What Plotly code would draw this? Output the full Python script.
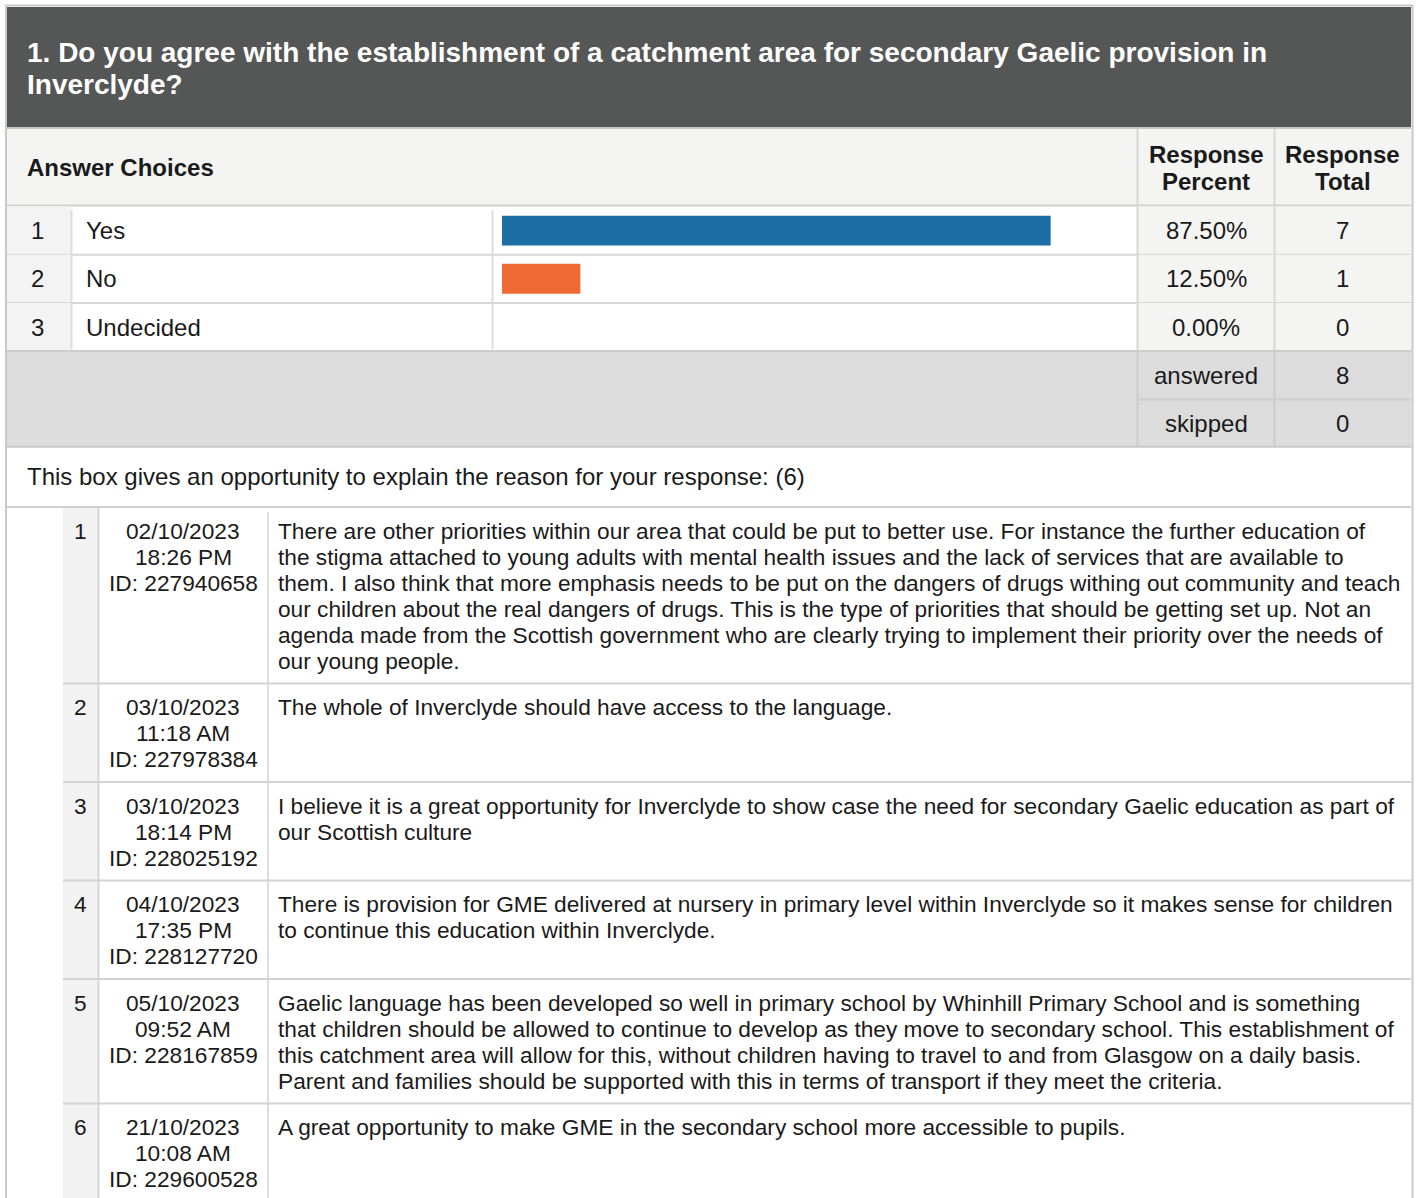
import plotly.graph_objects as go

W, H = 1417, 1198

# ---------------- data ----------------
question_lines = [
    "1. Do you agree with the establishment of a catchment area for secondary Gaelic provision in",
    "Inverclyde?",
]
header_labels = ["Answer Choices", ["Response", "Percent"], ["Response", "Total"]]
choices = ["Yes", "No", "Undecided"]
percents = [87.50, 12.50, 0.00]
totals = [7, 1, 0]
bar_colors = ["#1c6ea4", "#f06a35", "#9e9e9e"]
summary_labels = ["answered", "skipped"]
summary_values = [8, 0]
comment_prompt = "This box gives an opportunity to explain the reason for your response:"
comment_dates = ["02/10/2023", "03/10/2023", "03/10/2023", "04/10/2023", "05/10/2023", "21/10/2023"]
comment_times = ["18:26 PM", "11:18 AM", "18:14 PM", "17:35 PM", "09:52 AM", "10:08 AM"]
comment_ids = ["227940658", "227978384", "228025192", "228127720", "228167859", "229600528"]
comment_lines = [
    [
        "There are other priorities within our area that could be put to better use. For instance the further education of",
        "the stigma attached to young adults with mental health issues and the lack of services that are available to",
        "them. I also think that more emphasis needs to be put on the dangers of drugs withing out community and teach",
        "our children about the real dangers of drugs. This is the type of priorities that should be getting set up. Not an",
        "agenda made from the Scottish government who are clearly trying to implement their priority over the needs of",
        "our young people.",
    ],
    ["The whole of Inverclyde should have access to the language."],
    [
        "I believe it is a great opportunity for Inverclyde to show case the need for secondary Gaelic education as part of",
        "our Scottish culture",
    ],
    [
        "There is provision for GME delivered at nursery in primary level within Inverclyde so it makes sense for children",
        "to continue this education within Inverclyde.",
    ],
    [
        "Gaelic language has been developed so well in primary school by Whinhill Primary School and is something",
        "that children should be allowed to continue to develop as they move to secondary school. This establishment of",
        "this catchment area will allow for this, without children having to travel to and from Glasgow on a daily basis.",
        "Parent and families should be supported with this in terms of transport if they meet the criteria.",
    ],
    ["A great opportunity to make GME in the secondary school more accessible to pupils."],
]

# ---------------- styling ----------------
FONT = "Arial, 'Liberation Sans', sans-serif"
TXT = "#1a1a1a"
LINE = "#d3d3d3"

shapes = []
annotations = []


def rect(x0, y0, x1, y1, fill):
    shapes.append(dict(type="rect", xref="x", yref="y", x0=x0, y0=y0, x1=x1, y1=y1,
                       fillcolor=fill, line=dict(width=0), layer="below"))


def seg(x0, y0, x1, y1, color=LINE, width=2):
    shapes.append(dict(type="line", xref="x", yref="y", x0=x0, y0=y0, x1=x1, y1=y1,
                       line=dict(color=color, width=width), layer="below"))


def text(x, y, s, size, anchor="left", bold=False, color=TXT):
    annotations.append(dict(xref="x", yref="y", x=x, y=y, text=f"<b>{s}</b>" if bold else s,
                            showarrow=False, xanchor=anchor, yanchor="middle", borderpad=0,
                            font=dict(family=FONT, size=size, color=color)))


L, R = 7, 1411
# outer frame
seg(6, 5, 6, H, "#c8c8c8", 2)
seg(1412.5, 5, 1412.5, H, "#c8c8c8", 2)
seg(5, 5.5, 1413, 5.5, "#c8c8c8", 2)

# title block
rect(L, 7, R, 127, "#555756")
for i, ln in enumerate(question_lines):
    text(26, 52 + i * 32, ln, 28, bold=True, color="#ffffff")

# column header row
C1, C2, C3, C4, C5 = 71.5, 492.5, 1137.5, 1274.5, R
rect(L, 128, R, 205, "#f4f4f2")
seg(L, 128, R, 128, "#c8c8c8", 2)
seg(L, 205.5, R, 205.5, "#d0d0d0", 2)
seg(C3, 129, C3, 205, "#d6d6d6", 2)
seg(C4, 129, C4, 205, "#d6d6d6", 2)
text(26, 167, header_labels[0], 24, bold=True)
for j, (lab, cx) in enumerate(zip(header_labels[1:], [(C3 + C4) / 2, (C4 + C5) / 2])):
    for k, part in enumerate(lab):
        text(cx, 154 + k * 27, part, 24, anchor="center", bold=True)

# answer rows
row_top = 206.5
row_h = 48.2
for i, (c, p, t) in enumerate(zip(choices, percents, totals)):
    y0 = row_top + i * row_h
    y1 = y0 + row_h
    yc = (y0 + y1) / 2
    rect(L, y0, C1, y1, "#f3f3f3")
    rect(C3, y0, R, y1, "#f4f4f3")
    text(37.5, yc, str(i + 1), 24, anchor="center")
    text(85, yc, c, 24)
    text((C3 + C4) / 2, yc, f"{p:.2f}%", 24, anchor="center")
    text((C4 + C5) / 2, yc, str(t), 24, anchor="center")
    if i < len(choices) - 1:
        seg(L, y1, R, y1, "#d6d6d6", 2)
ans_bottom = row_top + len(choices) * row_h
seg(C1, row_top + 4, C1, ans_bottom - 2, "#dcdcdc", 2)
seg(C2, row_top + 4, C2, ans_bottom - 2, "#dcdcdc", 2)
seg(C3, row_top, C3, ans_bottom, "#d6d6d6", 2)
seg(C4, row_top, C4, ans_bottom, "#d6d6d6", 2)
seg(L, ans_bottom, R, ans_bottom, "#cccccc", 2)

# summary rows
sum_h = 47.3
sum_top = ans_bottom + 1
rect(L, sum_top, R, sum_top + 2 * sum_h, "#dcdcdc")
for i, (lab, v) in enumerate(zip(summary_labels, summary_values)):
    yc = sum_top + (i + 0.5) * sum_h
    text((C3 + C4) / 2, yc, lab, 24, anchor="center")
    text((C4 + C5) / 2, yc, str(v), 24, anchor="center")
seg(C3, sum_top + sum_h, R, sum_top + sum_h, "#cdcdcd", 2)
seg(C3, sum_top, C3, sum_top + 2 * sum_h, "#cdcdcd", 2)
seg(C4, sum_top, C4, sum_top + 2 * sum_h, "#cdcdcd", 2)
sum_bottom = sum_top + 2 * sum_h
seg(L, sum_bottom, R, sum_bottom, "#c8c8c8", 2)

# prompt row
text(26, 476, f"{comment_prompt} ({len(comment_lines)})", 24)
seg(L, 507, R, 507, "#d0d0d0", 2)

# comments
CN0, CN1, CD1 = 63, 98.5, 268
LH = 26
CF = 22.7
rect(CN0, 508, CN1, H, "#f2f2f2")
seg(CN1, 508, CN1, H, "#d6d6d6", 2)
seg(CD1, 512, CD1, H, "#dedede", 2)
top = 508
for i, lines in enumerate(comment_lines):
    n = max(len(lines), 3)
    y_first = top + 22.5
    text(80.5, y_first, str(i + 1), CF, anchor="center")
    date_block = [comment_dates[i], comment_times[i], f"ID: {comment_ids[i]}"]
    for k, s in enumerate(date_block):
        text(183, y_first + k * LH, s, CF, anchor="center")
    for k, s in enumerate(lines):
        text(276.5, y_first + k * LH, s, CF)
    top = top + n * LH + 20.5
    if i < len(comment_lines) - 1:
        seg(CN0, top - 1, R, top - 1, "#d3d3d3", 2)

# ---------------- figure ----------------
fig = go.Figure()
fig.add_trace(go.Scatter(x=[0, W], y=[0, H], mode="markers", marker=dict(opacity=0),
                         hoverinfo="skip", showlegend=False))
fig.add_trace(go.Bar(x=percents, y=choices, orientation="h", width=0.62,
                     marker=dict(color=bar_colors, line=dict(width=0)),
                     xaxis="x2", yaxis="y2", hoverinfo="skip", showlegend=False))

fig.update_layout(
    width=W, height=H,
    margin=dict(l=0, r=0, t=0, b=0),
    paper_bgcolor="#ffffff", plot_bgcolor="rgba(0,0,0,0)",
    showlegend=False,
    xaxis=dict(range=[0, W], domain=[0, 1], visible=False, fixedrange=True),
    yaxis=dict(range=[H, 0], domain=[0, 1], visible=False, fixedrange=True),
    xaxis2=dict(range=[0, 100], domain=[502 / W, 1129 / W], visible=False,
                anchor="y2", fixedrange=True),
    yaxis2=dict(domain=[1 - ans_bottom / H, 1 - row_top / H], visible=False,
                categoryorder="array", categoryarray=choices, autorange="reversed",
                anchor="x2", fixedrange=True),
    shapes=shapes,
    annotations=annotations,
)

fig.write_html("out.html", config={"displayModeBar": False},
               post_script="document.body.style.margin='0';document.body.style.overflow='hidden';")
